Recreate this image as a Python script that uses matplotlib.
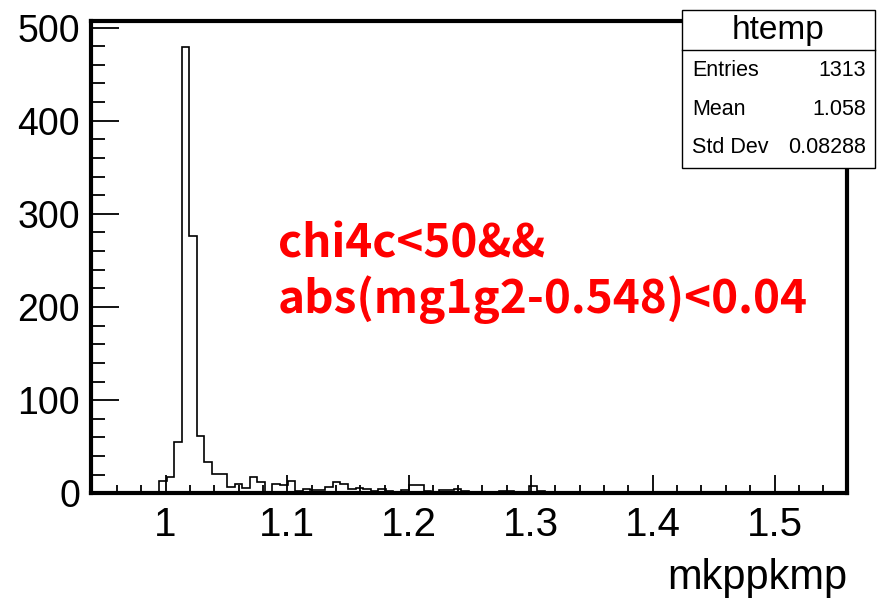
import numpy as np
import matplotlib
matplotlib.use("Agg")
import matplotlib.pyplot as plt
from matplotlib.ticker import MultipleLocator

# histogram of mkppkmp, 100 bins
x_min, x_max = 0.9388, 1.5595
counts = [0, 0, 0, 0, 0, 0, 0, 1, 1, 13,
          18, 55, 479, 276, 61, 34, 21, 21, 7, 10,
          6, 17, 12, 1, 10, 9, 13, 3, 5, 4,
          4, 7, 12, 10, 5, 6, 5, 2, 5, 3,
          1, 4, 9, 9, 2, 1, 4, 4, 5, 2,
          1, 1, 1, 1, 3, 3, 1, 1, 8, 2,
          0, 0, 0, 0, 0, 0, 0, 0, 0, 0,
          0, 1, 0, 0, 0, 0, 0, 1, 0, 0,
          0, 0, 0, 0, 0, 0, 0, 0, 0, 0,
          0, 0, 0, 0, 0, 0, 0, 0, 0, 0]
edges = np.linspace(x_min, x_max, len(counts) + 1)
y_max = 507

stat_title = "htemp"
stat_names = ["Entries", "Mean", "Std Dev"]
stat_values = ["1313", "1.058", "0.08288"]
x_label = "mkppkmp"
cut_lines = ["chi4c<50&&", "abs(mg1g2-0.548)<0.04"]

plt.rcParams['font.family'] = ['Liberation Sans', 'DejaVu Sans']
narrow = ['Liberation Sans Narrow', 'Liberation Sans', 'DejaVu Sans']

fig = plt.figure(figsize=(8.84, 6.05), dpi=100)
ax = fig.add_axes([91 / 884, 1 - 493.3 / 605, (847 - 91) / 884, (493.3 - 21) / 605])

ax.stairs(counts, edges, color='black', linewidth=1.2)
ax.set_xlim(x_min, x_max)
ax.set_ylim(0, y_max)

for s in ax.spines.values():
    s.set_linewidth(3)
ax.xaxis.set_major_locator(MultipleLocator(0.1))
ax.xaxis.set_minor_locator(MultipleLocator(0.02))
ax.yaxis.set_major_locator(MultipleLocator(100))
ax.yaxis.set_minor_locator(MultipleLocator(20))
ax.xaxis.set_major_formatter(matplotlib.ticker.FuncFormatter(lambda v, p: f"{v:g}"))
ax.tick_params(which='both', direction='in', top=False, right=False, width=1.3)
ax.tick_params(axis='x', which='major', length=13, pad=9)
ax.tick_params(axis='x', which='minor', length=6)
ax.tick_params(axis='y', which='major', length=20, pad=8, labelsize=27)
ax.tick_params(axis='y', which='minor', length=10)
for lab in ax.get_xticklabels():
    lab.set_family(narrow)
    lab.set_fontsize(29)

fig.text(847 / 884, 1 - 578 / 605, x_label, ha='right', va='center', fontsize=30, family=narrow)

# stats box
bx0, bx1, by0, by1 = 682 / 884, 875 / 884, 1 - 168 / 605, 1 - 10 / 605
fig.patches.append(plt.Rectangle((bx0, by0), bx1 - bx0, by1 - by0, transform=fig.transFigure,
                                 facecolor='white', edgecolor='black', linewidth=1.0, zorder=5))
fig.lines.append(plt.Line2D([bx0, bx1], [1 - 50 / 605] * 2, transform=fig.transFigure,
                            color='black', linewidth=1.0, zorder=6))
fig.text((bx0 + bx1) / 2, 1 - 31 / 605, stat_title, ha='center', va='center', fontsize=24, zorder=7)
for i, (n, v) in enumerate(zip(stat_names, stat_values)):
    yy = 1 - (71 + 38.5 * i) / 605
    fig.text(692 / 884, yy, n, ha='left', va='center', fontsize=15.5, zorder=7)
    fig.text(866 / 884, yy, v, ha='right', va='center', fontsize=15.5, zorder=7)

# red cut annotation
for i, t in enumerate(cut_lines):
    fig.text(278 / 884, 1 - (244 + 56 * i) / 605, t, ha='left', va='center', color='#ff0000',
             fontsize=33, fontweight='bold', family=['Noto Sans CJK SC', 'DejaVu Sans'])

fig.savefig("out.png", dpi=100)
